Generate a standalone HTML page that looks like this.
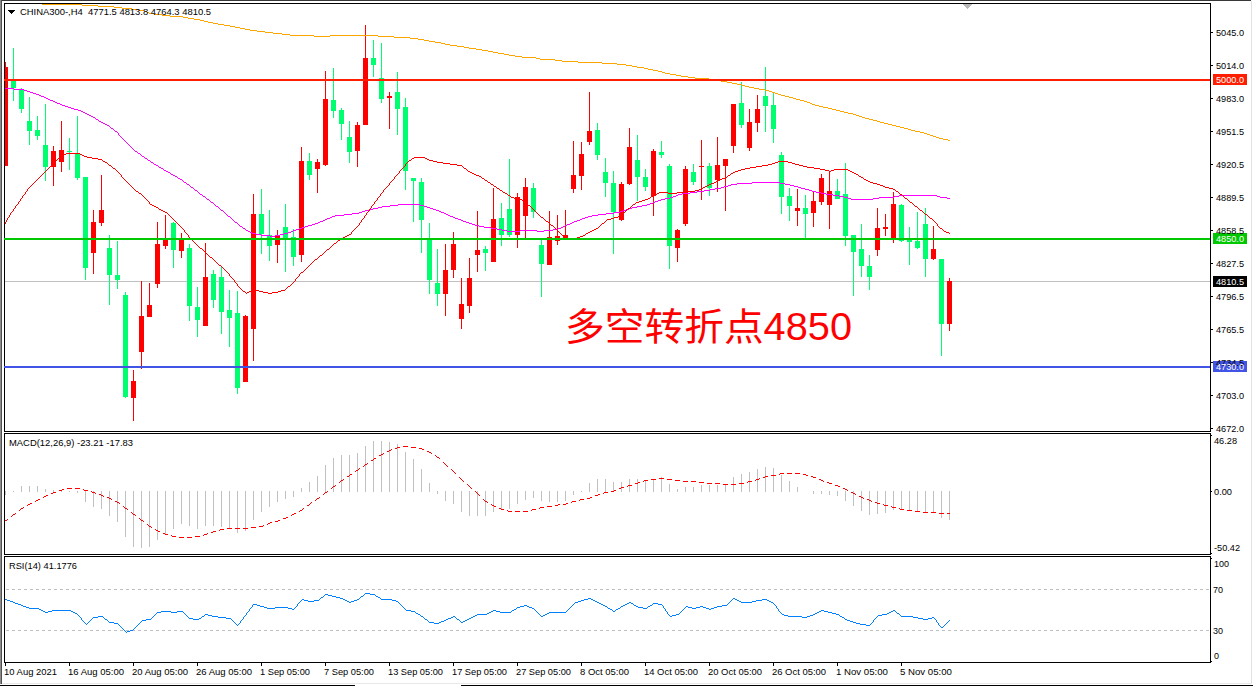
<!DOCTYPE html><html><head><meta charset="utf-8"><title>CHINA300 H4</title><style>html,body{margin:0;padding:0;background:#fff;overflow:hidden}svg{display:block}text{font-family:"Liberation Sans",sans-serif}</style></head><body>
<svg width="1253" height="686" viewBox="0 0 1253 686">
<rect x="0" y="0" width="1253" height="686" fill="#fff"/>
<g shape-rendering="crispEdges">
<rect x="0" y="0" width="1251" height="1" fill="#383838"/>
<rect x="0" y="0" width="1" height="684" fill="#8c8c8c"/>
<rect x="1" y="0" width="1" height="684" fill="#505050"/>
<rect x="1251" y="1" width="1" height="683" fill="#e2e2e2"/>
<rect x="2" y="683" width="1250" height="1" fill="#e8e8e8"/>
<rect x="0" y="685" width="355" height="1" fill="#000"/>
<rect x="461" y="685" width="792" height="1" fill="#000"/>
</g>
<defs><clipPath id="cm"><rect x="5" y="4" width="1205" height="427"/></clipPath></defs>
<g clip-path="url(#cm)">
<rect x="5" y="281" width="1205" height="1" fill="#c0c0c0" shape-rendering="crispEdges"/>
<g shape-rendering="crispEdges">
<rect x="5" y="62" width="1" height="104" fill="#FF0000"/>
<rect x="3" y="67" width="5" height="99" fill="#FF0000"/>
<rect x="13" y="48" width="1" height="53" fill="#00FF70"/>
<rect x="11" y="80" width="5" height="8" fill="#00FF70"/>
<rect x="21" y="88" width="1" height="25" fill="#00FF70"/>
<rect x="19" y="90" width="5" height="19" fill="#00FF70"/>
<rect x="29" y="97" width="1" height="48" fill="#00FF70"/>
<rect x="27" y="121" width="5" height="10" fill="#00FF70"/>
<rect x="37" y="116" width="1" height="24" fill="#00FF70"/>
<rect x="35" y="130" width="5" height="6" fill="#00FF70"/>
<rect x="45" y="104" width="1" height="77" fill="#00FF70"/>
<rect x="43" y="145" width="5" height="22" fill="#00FF70"/>
<rect x="53" y="146" width="1" height="40" fill="#FF0000"/>
<rect x="51" y="151" width="5" height="16" fill="#FF0000"/>
<rect x="61" y="121" width="1" height="51" fill="#FF0000"/>
<rect x="59" y="150" width="5" height="12" fill="#FF0000"/>
<rect x="69" y="138" width="1" height="32" fill="#00FF70"/>
<rect x="67" y="151" width="5" height="1" fill="#00FF70"/>
<rect x="77" y="116" width="1" height="64" fill="#00FF70"/>
<rect x="75" y="153" width="5" height="25" fill="#00FF70"/>
<rect x="85" y="177" width="1" height="103" fill="#00FF70"/>
<rect x="83" y="177" width="5" height="91" fill="#00FF70"/>
<rect x="93" y="210" width="1" height="64" fill="#FF0000"/>
<rect x="91" y="222" width="5" height="31" fill="#FF0000"/>
<rect x="101" y="175" width="1" height="51" fill="#FF0000"/>
<rect x="99" y="210" width="5" height="13" fill="#FF0000"/>
<rect x="109" y="235" width="1" height="70" fill="#00FF70"/>
<rect x="107" y="248" width="5" height="27" fill="#00FF70"/>
<rect x="117" y="241" width="1" height="48" fill="#00FF70"/>
<rect x="115" y="275" width="5" height="5" fill="#00FF70"/>
<rect x="125" y="292" width="1" height="106" fill="#00FF70"/>
<rect x="123" y="295" width="5" height="102" fill="#00FF70"/>
<rect x="133" y="370" width="1" height="51" fill="#FF0000"/>
<rect x="131" y="381" width="5" height="17" fill="#FF0000"/>
<rect x="141" y="281" width="1" height="88" fill="#FF0000"/>
<rect x="139" y="316" width="5" height="36" fill="#FF0000"/>
<rect x="149" y="283" width="1" height="34" fill="#FF0000"/>
<rect x="147" y="305" width="5" height="12" fill="#FF0000"/>
<rect x="157" y="222" width="1" height="66" fill="#FF0000"/>
<rect x="155" y="244" width="5" height="40" fill="#FF0000"/>
<rect x="165" y="215" width="1" height="34" fill="#FF0000"/>
<rect x="163" y="239" width="5" height="7" fill="#FF0000"/>
<rect x="173" y="222" width="1" height="46" fill="#00FF70"/>
<rect x="171" y="223" width="5" height="27" fill="#00FF70"/>
<rect x="181" y="233" width="1" height="25" fill="#FF0000"/>
<rect x="179" y="240" width="5" height="11" fill="#FF0000"/>
<rect x="189" y="244" width="1" height="77" fill="#00FF70"/>
<rect x="187" y="248" width="5" height="58" fill="#00FF70"/>
<rect x="197" y="287" width="1" height="50" fill="#00FF70"/>
<rect x="195" y="307" width="5" height="13" fill="#00FF70"/>
<rect x="205" y="243" width="1" height="83" fill="#FF0000"/>
<rect x="203" y="277" width="5" height="49" fill="#FF0000"/>
<rect x="213" y="270" width="1" height="38" fill="#00FF70"/>
<rect x="211" y="274" width="5" height="26" fill="#00FF70"/>
<rect x="221" y="266" width="1" height="68" fill="#00FF70"/>
<rect x="219" y="277" width="5" height="35" fill="#00FF70"/>
<rect x="229" y="290" width="1" height="57" fill="#00FF70"/>
<rect x="227" y="310" width="5" height="8" fill="#00FF70"/>
<rect x="237" y="291" width="1" height="103" fill="#00FF70"/>
<rect x="235" y="313" width="5" height="75" fill="#00FF70"/>
<rect x="245" y="315" width="1" height="67" fill="#FF0000"/>
<rect x="243" y="316" width="5" height="66" fill="#FF0000"/>
<rect x="253" y="194" width="1" height="167" fill="#FF0000"/>
<rect x="251" y="214" width="5" height="115" fill="#FF0000"/>
<rect x="261" y="189" width="1" height="65" fill="#00FF70"/>
<rect x="259" y="214" width="5" height="20" fill="#00FF70"/>
<rect x="269" y="210" width="1" height="51" fill="#00FF70"/>
<rect x="267" y="235" width="5" height="11" fill="#00FF70"/>
<rect x="277" y="230" width="1" height="33" fill="#FF0000"/>
<rect x="275" y="235" width="5" height="10" fill="#FF0000"/>
<rect x="285" y="204" width="1" height="68" fill="#00FF70"/>
<rect x="283" y="227" width="5" height="11" fill="#00FF70"/>
<rect x="293" y="229" width="1" height="37" fill="#00FF70"/>
<rect x="291" y="237" width="5" height="20" fill="#00FF70"/>
<rect x="301" y="147" width="1" height="115" fill="#FF0000"/>
<rect x="299" y="161" width="5" height="94" fill="#FF0000"/>
<rect x="309" y="153" width="1" height="27" fill="#00FF70"/>
<rect x="307" y="161" width="5" height="14" fill="#00FF70"/>
<rect x="317" y="159" width="1" height="34" fill="#FF0000"/>
<rect x="315" y="162" width="5" height="7" fill="#FF0000"/>
<rect x="325" y="71" width="1" height="95" fill="#FF0000"/>
<rect x="323" y="99" width="5" height="66" fill="#FF0000"/>
<rect x="333" y="68" width="1" height="50" fill="#00FF70"/>
<rect x="331" y="100" width="5" height="11" fill="#00FF70"/>
<rect x="341" y="108" width="1" height="32" fill="#00FF70"/>
<rect x="339" y="110" width="5" height="14" fill="#00FF70"/>
<rect x="349" y="121" width="1" height="42" fill="#00FF70"/>
<rect x="347" y="137" width="5" height="15" fill="#00FF70"/>
<rect x="357" y="122" width="1" height="45" fill="#FF0000"/>
<rect x="355" y="125" width="5" height="26" fill="#FF0000"/>
<rect x="365" y="25" width="1" height="100" fill="#FF0000"/>
<rect x="363" y="58" width="5" height="67" fill="#FF0000"/>
<rect x="373" y="40" width="1" height="37" fill="#00FF70"/>
<rect x="371" y="58" width="5" height="7" fill="#00FF70"/>
<rect x="381" y="43" width="1" height="60" fill="#00FF70"/>
<rect x="379" y="78" width="5" height="21" fill="#00FF70"/>
<rect x="389" y="92" width="1" height="37" fill="#FF0000"/>
<rect x="387" y="96" width="5" height="2" fill="#FF0000"/>
<rect x="397" y="72" width="1" height="63" fill="#00FF70"/>
<rect x="395" y="92" width="5" height="17" fill="#00FF70"/>
<rect x="405" y="98" width="1" height="92" fill="#00FF70"/>
<rect x="403" y="107" width="5" height="64" fill="#00FF70"/>
<rect x="413" y="178" width="1" height="44" fill="#00FF70"/>
<rect x="411" y="178" width="5" height="3" fill="#00FF70"/>
<rect x="421" y="178" width="1" height="75" fill="#00FF70"/>
<rect x="419" y="182" width="5" height="38" fill="#00FF70"/>
<rect x="429" y="223" width="1" height="71" fill="#00FF70"/>
<rect x="427" y="238" width="5" height="42" fill="#00FF70"/>
<rect x="437" y="249" width="1" height="57" fill="#00FF70"/>
<rect x="435" y="283" width="5" height="11" fill="#00FF70"/>
<rect x="445" y="244" width="1" height="72" fill="#FF0000"/>
<rect x="443" y="270" width="5" height="24" fill="#FF0000"/>
<rect x="453" y="232" width="1" height="46" fill="#FF0000"/>
<rect x="451" y="244" width="5" height="26" fill="#FF0000"/>
<rect x="461" y="278" width="1" height="51" fill="#FF0000"/>
<rect x="459" y="304" width="5" height="15" fill="#FF0000"/>
<rect x="469" y="258" width="1" height="55" fill="#FF0000"/>
<rect x="467" y="278" width="5" height="28" fill="#FF0000"/>
<rect x="477" y="211" width="1" height="61" fill="#FF0000"/>
<rect x="475" y="250" width="5" height="5" fill="#FF0000"/>
<rect x="485" y="246" width="1" height="25" fill="#00FF70"/>
<rect x="483" y="249" width="5" height="4" fill="#00FF70"/>
<rect x="493" y="188" width="1" height="74" fill="#FF0000"/>
<rect x="491" y="219" width="5" height="43" fill="#FF0000"/>
<rect x="501" y="203" width="1" height="43" fill="#00FF70"/>
<rect x="499" y="218" width="5" height="17" fill="#00FF70"/>
<rect x="509" y="159" width="1" height="78" fill="#00FF70"/>
<rect x="507" y="209" width="5" height="26" fill="#00FF70"/>
<rect x="517" y="193" width="1" height="55" fill="#FF0000"/>
<rect x="515" y="197" width="5" height="38" fill="#FF0000"/>
<rect x="525" y="178" width="1" height="60" fill="#FF0000"/>
<rect x="523" y="187" width="5" height="29" fill="#FF0000"/>
<rect x="533" y="183" width="1" height="35" fill="#00FF70"/>
<rect x="531" y="188" width="5" height="24" fill="#00FF70"/>
<rect x="541" y="240" width="1" height="57" fill="#00FF70"/>
<rect x="539" y="245" width="5" height="19" fill="#00FF70"/>
<rect x="549" y="211" width="1" height="54" fill="#FF0000"/>
<rect x="547" y="237" width="5" height="28" fill="#FF0000"/>
<rect x="557" y="215" width="1" height="30" fill="#FF0000"/>
<rect x="555" y="236" width="5" height="5" fill="#FF0000"/>
<rect x="565" y="210" width="1" height="29" fill="#FF0000"/>
<rect x="563" y="235" width="5" height="4" fill="#FF0000"/>
<rect x="573" y="141" width="1" height="52" fill="#FF0000"/>
<rect x="571" y="175" width="5" height="14" fill="#FF0000"/>
<rect x="581" y="142" width="1" height="48" fill="#FF0000"/>
<rect x="579" y="154" width="5" height="22" fill="#FF0000"/>
<rect x="589" y="92" width="1" height="53" fill="#FF0000"/>
<rect x="587" y="131" width="5" height="11" fill="#FF0000"/>
<rect x="597" y="123" width="1" height="37" fill="#00FF70"/>
<rect x="595" y="130" width="5" height="25" fill="#00FF70"/>
<rect x="605" y="158" width="1" height="39" fill="#00FF70"/>
<rect x="603" y="172" width="5" height="11" fill="#00FF70"/>
<rect x="613" y="171" width="1" height="83" fill="#00FF70"/>
<rect x="611" y="183" width="5" height="29" fill="#00FF70"/>
<rect x="621" y="182" width="1" height="39" fill="#FF0000"/>
<rect x="619" y="184" width="5" height="36" fill="#FF0000"/>
<rect x="629" y="128" width="1" height="57" fill="#FF0000"/>
<rect x="627" y="147" width="5" height="37" fill="#FF0000"/>
<rect x="637" y="135" width="1" height="66" fill="#00FF70"/>
<rect x="635" y="160" width="5" height="17" fill="#00FF70"/>
<rect x="645" y="169" width="1" height="22" fill="#00FF70"/>
<rect x="643" y="177" width="5" height="10" fill="#00FF70"/>
<rect x="653" y="149" width="1" height="67" fill="#FF0000"/>
<rect x="651" y="151" width="5" height="45" fill="#FF0000"/>
<rect x="661" y="141" width="1" height="17" fill="#00FF70"/>
<rect x="659" y="152" width="5" height="3" fill="#00FF70"/>
<rect x="669" y="164" width="1" height="105" fill="#00FF70"/>
<rect x="667" y="166" width="5" height="80" fill="#00FF70"/>
<rect x="677" y="229" width="1" height="33" fill="#FF0000"/>
<rect x="675" y="230" width="5" height="18" fill="#FF0000"/>
<rect x="685" y="166" width="1" height="60" fill="#FF0000"/>
<rect x="683" y="169" width="5" height="55" fill="#FF0000"/>
<rect x="693" y="164" width="1" height="21" fill="#00FF70"/>
<rect x="691" y="172" width="5" height="10" fill="#00FF70"/>
<rect x="701" y="140" width="1" height="60" fill="#FF0000"/>
<rect x="699" y="166" width="5" height="1" fill="#FF0000"/>
<rect x="709" y="163" width="1" height="33" fill="#00FF70"/>
<rect x="707" y="166" width="5" height="22" fill="#00FF70"/>
<rect x="717" y="137" width="1" height="55" fill="#FF0000"/>
<rect x="715" y="165" width="5" height="15" fill="#FF0000"/>
<rect x="725" y="159" width="1" height="52" fill="#FF0000"/>
<rect x="723" y="159" width="5" height="7" fill="#FF0000"/>
<rect x="733" y="104" width="1" height="49" fill="#FF0000"/>
<rect x="731" y="104" width="5" height="42" fill="#FF0000"/>
<rect x="741" y="82" width="1" height="46" fill="#00FF70"/>
<rect x="739" y="103" width="5" height="22" fill="#00FF70"/>
<rect x="749" y="109" width="1" height="42" fill="#FF0000"/>
<rect x="747" y="122" width="5" height="26" fill="#FF0000"/>
<rect x="757" y="95" width="1" height="37" fill="#FF0000"/>
<rect x="755" y="109" width="5" height="14" fill="#FF0000"/>
<rect x="765" y="67" width="1" height="65" fill="#00FF70"/>
<rect x="763" y="96" width="5" height="10" fill="#00FF70"/>
<rect x="773" y="92" width="1" height="51" fill="#00FF70"/>
<rect x="771" y="105" width="5" height="24" fill="#00FF70"/>
<rect x="781" y="152" width="1" height="62" fill="#00FF70"/>
<rect x="779" y="155" width="5" height="42" fill="#00FF70"/>
<rect x="789" y="188" width="1" height="33" fill="#00FF70"/>
<rect x="787" y="196" width="5" height="10" fill="#00FF70"/>
<rect x="797" y="189" width="1" height="37" fill="#FF0000"/>
<rect x="795" y="208" width="5" height="3" fill="#FF0000"/>
<rect x="805" y="195" width="1" height="43" fill="#00FF70"/>
<rect x="803" y="208" width="5" height="6" fill="#00FF70"/>
<rect x="813" y="192" width="1" height="35" fill="#FF0000"/>
<rect x="811" y="201" width="5" height="12" fill="#FF0000"/>
<rect x="821" y="174" width="1" height="31" fill="#FF0000"/>
<rect x="819" y="178" width="5" height="24" fill="#FF0000"/>
<rect x="829" y="171" width="1" height="58" fill="#FF0000"/>
<rect x="827" y="191" width="5" height="14" fill="#FF0000"/>
<rect x="837" y="179" width="1" height="20" fill="#00FF70"/>
<rect x="835" y="191" width="5" height="8" fill="#00FF70"/>
<rect x="845" y="163" width="1" height="83" fill="#00FF70"/>
<rect x="843" y="194" width="5" height="42" fill="#00FF70"/>
<rect x="853" y="235" width="1" height="61" fill="#00FF70"/>
<rect x="851" y="235" width="5" height="17" fill="#00FF70"/>
<rect x="861" y="224" width="1" height="53" fill="#00FF70"/>
<rect x="859" y="249" width="5" height="17" fill="#00FF70"/>
<rect x="869" y="255" width="1" height="35" fill="#00FF70"/>
<rect x="867" y="266" width="5" height="11" fill="#00FF70"/>
<rect x="877" y="208" width="1" height="48" fill="#FF0000"/>
<rect x="875" y="228" width="5" height="22" fill="#FF0000"/>
<rect x="885" y="214" width="1" height="22" fill="#FF0000"/>
<rect x="883" y="227" width="5" height="2" fill="#FF0000"/>
<rect x="893" y="192" width="1" height="51" fill="#FF0000"/>
<rect x="891" y="204" width="5" height="34" fill="#FF0000"/>
<rect x="901" y="204" width="1" height="38" fill="#00FF70"/>
<rect x="899" y="205" width="5" height="36" fill="#00FF70"/>
<rect x="909" y="227" width="1" height="38" fill="#00FF70"/>
<rect x="907" y="239" width="5" height="3" fill="#00FF70"/>
<rect x="917" y="212" width="1" height="37" fill="#00FF70"/>
<rect x="915" y="241" width="5" height="7" fill="#00FF70"/>
<rect x="925" y="208" width="1" height="69" fill="#00FF70"/>
<rect x="923" y="224" width="5" height="35" fill="#00FF70"/>
<rect x="933" y="226" width="1" height="34" fill="#FF0000"/>
<rect x="931" y="249" width="5" height="10" fill="#FF0000"/>
<rect x="941" y="259" width="1" height="97" fill="#00FF70"/>
<rect x="939" y="259" width="5" height="65" fill="#00FF70"/>
<rect x="949" y="278" width="1" height="53" fill="#FF0000"/>
<rect x="947" y="281" width="5" height="43" fill="#FF0000"/>
</g>
<path d="M42 4h40v1h-40zM82 5h16v1h-16zM98 6h16v1h-16zM114 7h8v1h-8zM122 8h10v1h-10zM132 9h6v1h-6zM138 10h6v1h-6zM144 11h3v1h-3zM147 12h2v1h-2zM149 13h5v1h-5zM154 14h8v1h-8zM162 15h8v1h-8zM170 16h13v1h-13zM183 17h5v1h-5zM188 18h6v1h-6zM194 19h6v1h-6zM200 20h4v1h-4zM204 21h4v1h-4zM208 22h5v1h-5zM213 23h5v1h-5zM218 24h6v1h-6zM224 25h6v1h-6zM230 26h5v1h-5zM235 27h5v1h-5zM240 28h5v1h-5zM245 29h5v1h-5zM250 30h7v1h-7zM257 31h8v1h-8zM265 32h8v1h-8zM273 33h9v1h-9zM282 34h8v1h-8zM290 35h24v1h-24zM314 36h16v1h-16zM330 35h48v1h-48zM378 36h16v1h-16zM394 37h16v1h-16zM410 38h8v1h-8zM418 39h6v1h-6zM424 40h5v1h-5zM429 41h6v1h-6zM435 42h6v1h-6zM441 43h4v1h-4zM445 44h5v1h-5zM450 45h7v1h-7zM457 46h7v1h-7zM464 47h5v1h-5zM469 48h7v1h-7zM476 49h6v1h-6zM482 50h6v1h-6zM488 51h5v1h-5zM493 52h5v1h-5zM498 53h6v1h-6zM504 54h5v1h-5zM509 55h6v1h-6zM515 56h7v1h-7zM522 57h14v1h-14zM536 58h4v1h-4zM540 59h15v1h-15zM555 60h7v1h-7zM562 61h16v1h-16zM578 62h24v1h-24zM602 63h15v1h-15zM617 64h9v1h-9zM626 65h6v1h-6zM632 66h5v1h-5zM637 67h7v1h-7zM644 68h4v1h-4zM648 69h5v1h-5zM653 70h5v1h-5zM658 71h4v1h-4zM662 72h3v1h-3zM665 73h5v1h-5zM670 74h6v1h-6zM676 75h5v1h-5zM681 76h7v1h-7zM688 77h7v1h-7zM695 78h14v1h-14zM709 79h6v1h-6zM715 80h6v1h-6zM721 81h6v1h-6zM727 82h5v1h-5zM732 83h5v1h-5zM737 84h5v1h-5zM742 85h3v1h-3zM745 86h4v1h-4zM749 87h5v1h-5zM754 88h5v1h-5zM759 89h6v1h-6zM765 90h4v1h-4zM769 91h3v1h-3zM772 92h3v1h-3zM775 93h3v1h-3zM778 94h3v1h-3zM781 95h4v1h-4zM785 96h4v1h-4zM789 97h4v1h-4zM793 98h3v1h-3zM796 99h4v1h-4zM800 100h4v1h-4zM804 101h3v1h-3zM807 102h3v1h-3zM810 103h2v1h-2zM812 104h3v1h-3zM815 105h4v1h-4zM819 106h4v1h-4zM823 107h5v1h-5zM828 108h4v1h-4zM832 109h4v1h-4zM836 110h4v1h-4zM840 111h4v1h-4zM844 112h4v1h-4zM848 113h5v1h-5zM853 114h3v1h-3zM856 115h3v1h-3zM859 116h3v1h-3zM862 117h3v1h-3zM865 118h4v1h-4zM869 119h4v1h-4zM873 120h4v1h-4zM877 121h3v1h-3zM880 122h4v1h-4zM884 123h4v1h-4zM888 124h4v1h-4zM892 125h4v1h-4zM896 126h4v1h-4zM900 127h4v1h-4zM904 128h4v1h-4zM908 129h3v1h-3zM911 130h4v1h-4zM915 131h5v1h-5zM920 132h4v1h-4zM924 133h3v1h-3zM927 134h3v1h-3zM930 135h3v1h-3zM933 136h3v1h-3zM936 137h3v1h-3zM939 138h4v1h-4zM943 139h5v1h-5zM948 140h2v1h-2z" fill="#FFA500" shape-rendering="crispEdges"/>
<path d="M5 88h9v1h-9zM14 89h10v1h-10zM24 90h3v1h-3zM27 91h3v1h-3zM30 92h3v1h-3zM33 93h3v1h-3zM36 94h3v1h-3zM39 95h2v1h-2zM41 96h3v1h-3zM44 97h2v1h-2zM46 98h2v1h-2zM48 99h2v1h-2zM50 100h3v1h-3zM53 101h2v1h-2zM55 102h2v1h-2zM57 103h3v1h-3zM60 104h2v1h-2zM62 105h3v1h-3zM65 106h3v1h-3zM68 107h3v1h-3zM71 108h3v1h-3zM74 109h4v1h-4zM78 110h3v1h-3zM81 111h2v1h-2zM83 112h2v1h-2zM85 113h2v1h-2zM87 114h2v1h-2zM89 115h2v1h-2zM91 116h2v1h-2zM93 117h2v1h-2zM95 118h1v1h-1zM96 119h2v1h-2zM98 120h1v1h-1zM99 121h2v1h-2zM101 122h2v1h-2zM103 123h2v1h-2zM105 124h2v1h-2zM107 125h2v1h-2zM109 126h1v1h-1zM110 127h1v1h-1zM111 128h2v1h-2zM113 129h1v1h-1zM114 130h1v1h-1zM115 131h2v1h-2zM117 132h1v1h-1zM118 133h1v2h-1zM119 135h1v1h-1zM120 136h1v1h-1zM121 137h1v1h-1zM122 138h1v1h-1zM123 139h1v1h-1zM124 140h1v1h-1zM125 141h1v1h-1zM126 142h1v1h-1zM127 143h1v1h-1zM128 144h1v1h-1zM129 145h1v1h-1zM130 146h1v1h-1zM131 147h1v1h-1zM132 148h1v1h-1zM133 149h1v1h-1zM134 150h1v1h-1zM135 151h2v1h-2zM137 152h1v1h-1zM138 153h2v1h-2zM140 154h1v1h-1zM141 155h1v1h-1zM142 156h2v1h-2zM144 157h1v1h-1zM145 158h2v1h-2zM147 159h1v1h-1zM148 160h2v1h-2zM150 161h1v1h-1zM151 162h2v1h-2zM153 163h1v1h-1zM154 164h2v1h-2zM156 165h2v1h-2zM158 166h1v1h-1zM159 167h2v1h-2zM161 168h2v1h-2zM163 169h1v1h-1zM164 170h2v1h-2zM166 171h2v1h-2zM168 172h2v1h-2zM170 173h1v1h-1zM171 174h2v1h-2zM173 175h2v1h-2zM175 176h2v1h-2zM177 177h1v1h-1zM178 178h2v1h-2zM180 179h2v1h-2zM182 180h1v1h-1zM183 181h1v1h-1zM184 182h2v1h-2zM186 183h1v1h-1zM187 184h2v1h-2zM189 185h1v1h-1zM190 186h1v1h-1zM191 187h2v1h-2zM193 188h1v1h-1zM194 189h1v1h-1zM195 190h2v1h-2zM197 191h1v1h-1zM198 192h1v1h-1zM199 193h1v1h-1zM200 194h2v1h-2zM202 195h1v1h-1zM203 196h2v1h-2zM205 197h1v1h-1zM206 198h1v1h-1zM207 199h2v1h-2zM209 200h1v1h-1zM210 201h1v1h-1zM211 202h2v1h-2zM213 203h1v1h-1zM214 204h1v1h-1zM215 205h1v1h-1zM216 206h2v1h-2zM218 207h1v1h-1zM219 208h1v1h-1zM220 209h1v1h-1zM221 210h2v1h-2zM223 211h1v1h-1zM224 212h1v1h-1zM225 213h1v1h-1zM226 214h1v1h-1zM227 215h1v1h-1zM228 216h2v1h-2zM230 217h1v1h-1zM231 218h1v1h-1zM232 219h1v1h-1zM233 220h1v1h-1zM234 221h1v1h-1zM235 222h2v1h-2zM237 223h1v1h-1zM238 224h1v1h-1zM239 225h1v1h-1zM240 226h2v1h-2zM242 227h1v1h-1zM243 228h2v1h-2zM245 229h1v1h-1zM246 230h2v1h-2zM248 231h2v1h-2zM250 232h2v1h-2zM252 233h4v1h-4zM256 234h5v1h-5zM261 235h9v1h-9zM270 236h5v1h-5zM275 235h5v1h-5zM280 234h4v1h-4zM284 233h4v1h-4zM288 232h3v1h-3zM291 231h2v1h-2zM293 230h3v1h-3zM296 229h3v1h-3zM299 228h3v1h-3zM302 227h3v1h-3zM305 226h3v1h-3zM308 225h4v1h-4zM312 224h3v1h-3zM315 223h3v1h-3zM318 222h2v1h-2zM320 221h3v1h-3zM323 220h2v1h-2zM325 219h2v1h-2zM327 218h3v1h-3zM330 217h2v1h-2zM332 216h3v1h-3zM335 215h9v1h-9zM344 214h8v1h-8zM352 213h7v1h-7zM359 212h3v1h-3zM362 211h3v1h-3zM365 210h4v1h-4zM369 209h4v1h-4zM373 208h5v1h-5zM378 207h4v1h-4zM382 206h8v1h-8zM390 205h8v1h-8zM398 204h22v1h-22zM420 205h4v1h-4zM424 206h3v1h-3zM427 207h3v1h-3zM430 208h3v1h-3zM433 209h3v1h-3zM436 210h3v1h-3zM439 211h2v1h-2zM441 212h3v1h-3zM444 213h2v1h-2zM446 214h2v1h-2zM448 215h2v1h-2zM450 216h3v1h-3zM453 217h2v1h-2zM455 218h3v1h-3zM458 219h3v1h-3zM461 220h2v1h-2zM463 221h3v1h-3zM466 222h3v1h-3zM469 223h3v1h-3zM472 224h3v1h-3zM475 225h4v1h-4zM479 226h5v1h-5zM484 227h7v1h-7zM491 228h6v1h-6zM497 229h5v1h-5zM502 230h5v1h-5zM507 231h13v1h-13zM520 230h17v1h-17zM537 231h7v1h-7zM544 230h9v1h-9zM553 229h5v1h-5zM558 228h3v1h-3zM561 227h2v1h-2zM563 226h2v1h-2zM565 225h2v1h-2zM567 224h3v1h-3zM570 223h2v1h-2zM572 222h2v1h-2zM574 221h3v1h-3zM577 220h3v1h-3zM580 219h2v1h-2zM582 218h3v1h-3zM585 217h3v1h-3zM588 216h4v1h-4zM592 215h6v1h-6zM598 214h8v1h-8zM606 213h8v1h-8zM614 212h6v1h-6zM620 211h3v1h-3zM623 210h3v1h-3zM626 209h3v1h-3zM629 208h3v1h-3zM632 207h5v1h-5zM637 206h5v1h-5zM642 205h5v1h-5zM647 204h3v1h-3zM650 203h3v1h-3zM653 202h2v1h-2zM655 201h3v1h-3zM658 200h3v1h-3zM661 199h4v1h-4zM665 198h5v1h-5zM670 197h3v1h-3zM673 196h3v1h-3zM676 195h2v1h-2zM678 194h4v1h-4zM682 193h8v1h-8zM690 192h7v1h-7zM697 191h7v1h-7zM704 190h6v1h-6zM710 189h5v1h-5zM715 188h6v1h-6zM721 187h3v1h-3zM724 186h4v1h-4zM728 185h3v1h-3zM731 184h6v1h-6zM737 183h15v1h-15zM752 182h28v1h-28zM780 183h5v1h-5zM785 184h5v1h-5zM790 185h4v1h-4zM794 186h4v1h-4zM798 187h3v1h-3zM801 188h4v1h-4zM805 189h4v1h-4zM809 190h3v1h-3zM812 191h4v1h-4zM816 192h5v1h-5zM821 193h5v1h-5zM826 194h7v1h-7zM833 195h6v1h-6zM839 196h5v1h-5zM844 197h4v1h-4zM848 198h3v1h-3zM851 199h22v1h-22zM873 198h6v1h-6zM879 197h15v1h-15zM894 196h5v1h-5zM899 195h38v1h-38zM937 196h3v1h-3zM940 197h7v1h-7zM947 198h3v1h-3z" fill="#FF00FF" shape-rendering="crispEdges"/>
<path d="M5 222h1v2h-1zM6 220h1v2h-1zM7 218h1v2h-1zM8 217h1v1h-1zM9 215h1v2h-1zM10 213h1v2h-1zM11 212h1v1h-1zM12 211h1v1h-1zM13 209h1v2h-1zM14 208h1v1h-1zM15 206h1v2h-1zM16 205h1v1h-1zM17 204h1v1h-1zM18 202h1v2h-1zM19 201h1v1h-1zM20 199h1v2h-1zM21 198h1v1h-1zM22 196h1v2h-1zM23 195h1v1h-1zM24 194h1v1h-1zM25 192h1v2h-1zM26 191h1v1h-1zM27 189h1v2h-1zM28 188h1v1h-1zM29 187h1v1h-1zM30 186h1v1h-1zM31 185h1v1h-1zM32 184h1v1h-1zM33 183h1v1h-1zM34 182h1v1h-1zM35 181h1v1h-1zM36 180h1v1h-1zM37 179h1v1h-1zM38 178h1v1h-1zM39 177h1v1h-1zM40 176h1v1h-1zM41 175h1v1h-1zM42 174h1v1h-1zM43 173h1v1h-1zM44 172h1v1h-1zM45 171h1v1h-1zM46 170h1v1h-1zM47 169h1v1h-1zM48 168h1v1h-1zM49 167h1v1h-1zM50 166h1v1h-1zM51 165h1v1h-1zM52 164h1v1h-1zM53 163h1v1h-1zM54 162h1v1h-1zM55 161h1v1h-1zM56 160h1v1h-1zM57 159h1v1h-1zM58 158h2v1h-2zM60 157h1v1h-1zM61 156h1v1h-1zM62 155h1v1h-1zM63 154h3v1h-3zM66 153h14v1h-14zM80 154h2v1h-2zM82 155h2v1h-2zM84 156h3v1h-3zM87 157h5v1h-5zM92 158h6v1h-6zM98 159h4v1h-4zM102 160h1v1h-1zM103 161h2v1h-2zM105 162h2v1h-2zM107 163h1v1h-1zM108 164h1v1h-1zM109 165h2v1h-2zM111 166h1v1h-1zM112 167h1v1h-1zM113 168h2v1h-2zM115 169h1v1h-1zM116 170h1v1h-1zM117 171h1v1h-1zM118 172h1v1h-1zM119 173h1v1h-1zM120 174h1v1h-1zM121 175h1v2h-1zM122 177h1v1h-1zM123 178h1v1h-1zM124 179h1v1h-1zM125 180h1v1h-1zM126 181h1v1h-1zM127 182h1v1h-1zM128 183h1v1h-1zM129 184h1v1h-1zM130 185h1v1h-1zM131 186h1v1h-1zM132 187h1v1h-1zM133 188h1v1h-1zM134 189h1v1h-1zM135 190h1v1h-1zM136 191h2v1h-2zM138 192h1v1h-1zM139 193h2v1h-2zM141 194h1v1h-1zM142 195h1v1h-1zM143 196h1v1h-1zM144 197h1v1h-1zM145 198h1v1h-1zM146 199h1v1h-1zM147 200h1v1h-1zM148 201h1v1h-1zM149 202h1v2h-1zM150 204h2v1h-2zM152 205h2v1h-2zM154 206h2v1h-2zM156 207h2v1h-2zM158 208h1v1h-1zM159 209h2v1h-2zM161 210h2v1h-2zM163 211h2v1h-2zM165 212h2v1h-2zM167 213h1v1h-1zM168 214h1v1h-1zM169 215h1v1h-1zM170 216h1v1h-1zM171 217h1v1h-1zM172 218h1v1h-1zM173 219h1v1h-1zM174 220h1v1h-1zM175 221h1v1h-1zM176 222h1v1h-1zM177 223h1v1h-1zM178 224h1v1h-1zM179 225h1v1h-1zM180 226h1v1h-1zM181 227h1v1h-1zM182 228h1v1h-1zM183 229h1v1h-1zM184 230h1v2h-1zM185 232h1v1h-1zM186 233h1v1h-1zM187 234h1v1h-1zM188 235h1v2h-1zM189 237h1v1h-1zM190 238h1v1h-1zM191 239h1v1h-1zM192 240h1v1h-1zM193 241h1v1h-1zM194 242h1v1h-1zM195 243h1v1h-1zM196 244h1v1h-1zM197 245h1v1h-1zM198 246h1v1h-1zM199 247h1v1h-1zM200 248h2v1h-2zM202 249h1v1h-1zM203 250h1v1h-1zM204 251h1v1h-1zM205 252h1v1h-1zM206 253h1v1h-1zM207 254h1v1h-1zM208 255h1v1h-1zM209 256h1v1h-1zM210 257h2v1h-2zM212 258h1v1h-1zM213 259h1v1h-1zM214 260h1v1h-1zM215 261h1v1h-1zM216 262h1v1h-1zM217 263h1v1h-1zM218 264h1v1h-1zM219 265h2v1h-2zM221 266h1v1h-1zM222 267h1v1h-1zM223 268h1v1h-1zM224 269h1v1h-1zM225 270h1v1h-1zM226 271h1v1h-1zM227 272h1v1h-1zM228 273h1v1h-1zM229 274h1v2h-1zM230 276h1v1h-1zM231 277h1v1h-1zM232 278h1v1h-1zM233 279h1v1h-1zM234 280h1v2h-1zM235 282h1v1h-1zM236 283h1v1h-1zM237 284h1v2h-1zM238 286h1v1h-1zM239 287h1v1h-1zM240 288h1v1h-1zM241 289h1v1h-1zM242 290h1v1h-1zM243 291h2v1h-2zM245 292h1v1h-1zM246 293h1v1h-1zM247 292h2v1h-2zM249 291h5v1h-5zM254 290h5v1h-5zM259 291h4v1h-4zM263 292h5v1h-5zM268 293h4v1h-4zM272 292h6v1h-6zM278 291h3v1h-3zM281 290h4v1h-4zM285 289h1v1h-1zM286 288h1v1h-1zM287 287h1v1h-1zM288 286h2v1h-2zM290 285h1v1h-1zM291 284h1v1h-1zM292 283h1v1h-1zM293 282h1v1h-1zM294 281h1v1h-1zM295 279h1v2h-1zM296 278h1v1h-1zM297 277h1v1h-1zM298 276h1v1h-1zM299 274h1v2h-1zM300 273h1v1h-1zM301 272h2v1h-2zM303 271h1v1h-1zM304 270h1v1h-1zM305 269h1v1h-1zM306 268h1v1h-1zM307 267h1v1h-1zM308 266h1v1h-1zM309 265h1v1h-1zM310 264h1v1h-1zM311 263h1v1h-1zM312 262h1v1h-1zM313 261h1v1h-1zM314 260h1v1h-1zM315 259h2v1h-2zM317 258h1v1h-1zM318 257h1v1h-1zM319 256h1v1h-1zM320 255h2v1h-2zM322 254h1v1h-1zM323 253h1v1h-1zM324 252h1v1h-1zM325 251h1v1h-1zM326 250h1v1h-1zM327 249h2v1h-2zM329 248h1v1h-1zM330 247h1v1h-1zM331 246h1v1h-1zM332 245h1v1h-1zM333 244h1v1h-1zM334 243h2v1h-2zM336 242h1v1h-1zM337 241h1v1h-1zM338 240h2v1h-2zM340 239h1v1h-1zM341 238h2v1h-2zM343 237h2v1h-2zM345 236h2v1h-2zM347 235h2v1h-2zM349 234h2v1h-2zM351 232h1v2h-1zM352 231h1v1h-1zM353 230h1v1h-1zM354 229h1v1h-1zM355 228h1v1h-1zM356 227h1v1h-1zM357 226h1v1h-1zM358 225h1v1h-1zM359 223h1v2h-1zM360 222h1v1h-1zM361 220h1v2h-1zM362 219h1v1h-1zM363 218h1v1h-1zM364 216h1v2h-1zM365 215h1v1h-1zM366 213h1v2h-1zM367 212h1v1h-1zM368 211h1v1h-1zM369 209h1v2h-1zM370 208h1v1h-1zM371 206h1v2h-1zM372 205h1v1h-1zM373 204h1v1h-1zM374 202h1v2h-1zM375 201h1v1h-1zM376 200h1v1h-1zM377 198h1v2h-1zM378 197h1v1h-1zM379 196h1v1h-1zM380 194h1v2h-1zM381 193h1v1h-1zM382 192h1v1h-1zM383 190h1v2h-1zM384 189h1v1h-1zM385 188h1v1h-1zM386 187h1v1h-1zM387 186h1v1h-1zM388 185h1v1h-1zM389 183h1v2h-1zM390 182h1v1h-1zM391 181h1v1h-1zM392 180h1v1h-1zM393 179h1v1h-1zM394 177h1v2h-1zM395 176h1v1h-1zM396 175h1v1h-1zM397 174h1v1h-1zM398 173h1v1h-1zM399 171h1v2h-1zM400 170h1v1h-1zM401 169h1v1h-1zM402 168h1v1h-1zM403 167h1v1h-1zM404 166h1v1h-1zM405 164h1v2h-1zM406 163h1v1h-1zM407 162h1v1h-1zM408 161h1v1h-1zM409 160h2v1h-2zM411 159h1v1h-1zM412 158h2v1h-2zM414 157h11v1h-11zM425 158h2v1h-2zM427 159h2v1h-2zM429 160h4v1h-4zM433 161h4v1h-4zM437 162h6v1h-6zM443 163h7v1h-7zM450 164h7v1h-7zM457 165h5v1h-5zM462 166h1v1h-1zM463 167h1v1h-1zM464 168h2v1h-2zM466 169h1v1h-1zM467 170h1v1h-1zM468 171h2v1h-2zM470 172h2v1h-2zM472 173h2v1h-2zM474 174h2v1h-2zM476 175h3v1h-3zM479 176h2v1h-2zM481 177h1v1h-1zM482 178h2v1h-2zM484 179h1v1h-1zM485 180h2v1h-2zM487 181h1v1h-1zM488 182h2v1h-2zM490 183h1v1h-1zM491 184h2v1h-2zM493 185h1v1h-1zM494 186h2v1h-2zM496 187h1v1h-1zM497 188h2v1h-2zM499 189h1v1h-1zM500 190h2v1h-2zM502 191h1v1h-1zM503 192h2v1h-2zM505 193h2v1h-2zM507 194h1v1h-1zM508 195h2v1h-2zM510 196h1v1h-1zM511 197h3v1h-3zM514 198h4v1h-4zM518 199h4v1h-4zM522 200h1v1h-1zM523 201h2v1h-2zM525 202h1v1h-1zM526 203h1v1h-1zM527 204h1v1h-1zM528 205h2v1h-2zM530 206h1v1h-1zM531 207h1v1h-1zM532 208h1v1h-1zM533 209h1v1h-1zM534 210h1v1h-1zM535 211h1v1h-1zM536 212h1v1h-1zM537 213h1v1h-1zM538 214h1v1h-1zM539 215h1v1h-1zM540 216h1v1h-1zM541 217h2v1h-2zM543 218h1v1h-1zM544 219h1v1h-1zM545 220h1v1h-1zM546 221h2v1h-2zM548 222h1v1h-1zM549 223h1v1h-1zM550 224h1v1h-1zM551 225h2v1h-2zM553 226h1v1h-1zM554 227h1v1h-1zM555 228h1v1h-1zM556 229h1v1h-1zM557 230h1v1h-1zM558 231h1v1h-1zM559 232h1v1h-1zM560 233h1v1h-1zM561 234h1v1h-1zM562 235h1v1h-1zM563 236h1v1h-1zM564 237h1v1h-1zM565 238h1v1h-1zM566 239h1v1h-1zM567 238h1v1h-1zM568 239h8v1h-8zM576 238h1v1h-1zM577 237h3v1h-3zM580 236h3v1h-3zM583 235h2v1h-2zM585 234h1v1h-1zM586 233h2v1h-2zM588 232h2v1h-2zM590 231h2v1h-2zM592 230h2v1h-2zM594 229h2v1h-2zM596 228h2v1h-2zM598 227h1v1h-1zM599 226h1v1h-1zM600 225h1v1h-1zM601 224h1v1h-1zM602 223h2v1h-2zM604 222h1v1h-1zM605 221h1v1h-1zM606 220h1v1h-1zM607 219h4v1h-4zM611 218h3v1h-3zM614 217h4v1h-4zM618 216h2v1h-2zM620 215h1v1h-1zM621 214h1v1h-1zM622 213h1v1h-1zM623 212h2v1h-2zM625 211h1v1h-1zM626 210h1v1h-1zM627 209h1v1h-1zM628 208h2v1h-2zM630 207h1v1h-1zM631 206h1v1h-1zM632 205h1v1h-1zM633 204h2v1h-2zM635 203h1v1h-1zM636 202h3v1h-3zM639 201h3v1h-3zM642 200h3v1h-3zM645 199h3v1h-3zM648 198h2v1h-2zM650 197h1v1h-1zM651 196h2v1h-2zM653 195h2v1h-2zM655 194h2v1h-2zM657 193h2v1h-2zM659 192h9v1h-9zM668 193h9v1h-9zM677 192h8v1h-8zM685 191h10v1h-10zM695 190h4v1h-4zM699 189h2v1h-2zM701 188h2v1h-2zM703 187h2v1h-2zM705 186h2v1h-2zM707 185h2v1h-2zM709 184h2v1h-2zM711 183h3v1h-3zM714 182h2v1h-2zM716 181h2v1h-2zM718 180h2v1h-2zM720 179h2v1h-2zM722 178h3v1h-3zM725 177h2v1h-2zM727 176h1v1h-1zM728 175h2v1h-2zM730 174h1v1h-1zM731 173h2v1h-2zM733 172h2v1h-2zM735 171h3v1h-3zM738 170h3v1h-3zM741 169h4v1h-4zM745 168h5v1h-5zM750 167h6v1h-6zM756 166h6v1h-6zM762 165h6v1h-6zM768 164h4v1h-4zM772 163h3v1h-3zM775 162h3v1h-3zM778 161h10v1h-10zM788 162h4v1h-4zM792 163h3v1h-3zM795 164h4v1h-4zM799 165h4v1h-4zM803 166h4v1h-4zM807 167h7v1h-7zM814 168h6v1h-6zM820 169h5v1h-5zM825 170h4v1h-4zM829 171h2v1h-2zM831 170h3v1h-3zM834 169h14v1h-14zM848 170h2v1h-2zM850 171h2v1h-2zM852 172h2v1h-2zM854 173h2v1h-2zM856 174h2v1h-2zM858 175h1v1h-1zM859 176h2v1h-2zM861 177h2v1h-2zM863 178h1v1h-1zM864 179h2v1h-2zM866 180h2v1h-2zM868 181h2v1h-2zM870 182h3v1h-3zM873 183h4v1h-4zM877 184h3v1h-3zM880 185h3v1h-3zM883 186h2v1h-2zM885 187h4v1h-4zM889 188h4v1h-4zM893 189h2v1h-2zM895 190h1v1h-1zM896 191h2v1h-2zM898 192h1v1h-1zM899 193h1v1h-1zM900 194h2v1h-2zM902 195h1v1h-1zM903 196h1v1h-1zM904 197h1v1h-1zM905 198h2v1h-2zM907 199h1v1h-1zM908 200h1v1h-1zM909 201h1v1h-1zM910 202h2v1h-2zM912 203h1v1h-1zM913 204h1v1h-1zM914 205h1v1h-1zM915 206h2v1h-2zM917 207h1v1h-1zM918 208h1v1h-1zM919 209h1v1h-1zM920 210h2v1h-2zM922 211h1v1h-1zM923 212h1v1h-1zM924 213h1v1h-1zM925 214h2v1h-2zM927 215h1v1h-1zM928 216h1v1h-1zM929 217h1v1h-1zM930 218h2v1h-2zM932 219h1v1h-1zM933 220h1v1h-1zM934 221h1v1h-1zM935 222h1v1h-1zM936 223h1v1h-1zM937 224h1v2h-1zM938 226h1v1h-1zM939 227h1v1h-1zM940 228h2v1h-2zM942 229h1v1h-1zM943 230h1v1h-1zM944 231h2v1h-2zM946 232h3v1h-3zM949 233h1v1h-1z" fill="#FF0000" shape-rendering="crispEdges"/>
<path d="M963 4h9v1h-9zM964 5h7v1h-7zM965 6h5v1h-5zM966 7h3v1h-3zM967 8h1v1h-1z" fill="#b8b8b8" shape-rendering="crispEdges"/>
</g>
<g shape-rendering="crispEdges">
<rect x="5" y="491" width="1" height="4" fill="#c0c0c0"/>
<rect x="13" y="491" width="1" height="1" fill="#c0c0c0"/>
<rect x="21" y="486" width="1" height="6" fill="#c0c0c0"/>
<rect x="29" y="486" width="1" height="6" fill="#c0c0c0"/>
<rect x="37" y="486" width="1" height="6" fill="#c0c0c0"/>
<rect x="45" y="489" width="1" height="3" fill="#c0c0c0"/>
<rect x="53" y="490" width="1" height="2" fill="#c0c0c0"/>
<rect x="61" y="490" width="1" height="2" fill="#c0c0c0"/>
<rect x="69" y="491" width="1" height="1" fill="#c0c0c0"/>
<rect x="77" y="491" width="1" height="2" fill="#c0c0c0"/>
<rect x="85" y="491" width="1" height="11" fill="#c0c0c0"/>
<rect x="93" y="491" width="1" height="16" fill="#c0c0c0"/>
<rect x="101" y="491" width="1" height="18" fill="#c0c0c0"/>
<rect x="109" y="491" width="1" height="25" fill="#c0c0c0"/>
<rect x="117" y="491" width="1" height="31" fill="#c0c0c0"/>
<rect x="125" y="491" width="1" height="46" fill="#c0c0c0"/>
<rect x="133" y="491" width="1" height="56" fill="#c0c0c0"/>
<rect x="141" y="491" width="1" height="57" fill="#c0c0c0"/>
<rect x="149" y="491" width="1" height="56" fill="#c0c0c0"/>
<rect x="157" y="491" width="1" height="49" fill="#c0c0c0"/>
<rect x="165" y="491" width="1" height="43" fill="#c0c0c0"/>
<rect x="173" y="491" width="1" height="38" fill="#c0c0c0"/>
<rect x="181" y="491" width="1" height="33" fill="#c0c0c0"/>
<rect x="189" y="491" width="1" height="35" fill="#c0c0c0"/>
<rect x="197" y="491" width="1" height="38" fill="#c0c0c0"/>
<rect x="205" y="491" width="1" height="35" fill="#c0c0c0"/>
<rect x="213" y="491" width="1" height="35" fill="#c0c0c0"/>
<rect x="221" y="491" width="1" height="36" fill="#c0c0c0"/>
<rect x="229" y="491" width="1" height="37" fill="#c0c0c0"/>
<rect x="237" y="491" width="1" height="42" fill="#c0c0c0"/>
<rect x="245" y="491" width="1" height="40" fill="#c0c0c0"/>
<rect x="253" y="491" width="1" height="29" fill="#c0c0c0"/>
<rect x="261" y="491" width="1" height="21" fill="#c0c0c0"/>
<rect x="269" y="491" width="1" height="16" fill="#c0c0c0"/>
<rect x="277" y="491" width="1" height="11" fill="#c0c0c0"/>
<rect x="285" y="491" width="1" height="8" fill="#c0c0c0"/>
<rect x="293" y="491" width="1" height="6" fill="#c0c0c0"/>
<rect x="301" y="488" width="1" height="4" fill="#c0c0c0"/>
<rect x="309" y="482" width="1" height="10" fill="#c0c0c0"/>
<rect x="317" y="476" width="1" height="16" fill="#c0c0c0"/>
<rect x="325" y="465" width="1" height="27" fill="#c0c0c0"/>
<rect x="333" y="458" width="1" height="34" fill="#c0c0c0"/>
<rect x="341" y="455" width="1" height="37" fill="#c0c0c0"/>
<rect x="349" y="455" width="1" height="37" fill="#c0c0c0"/>
<rect x="357" y="453" width="1" height="39" fill="#c0c0c0"/>
<rect x="365" y="446" width="1" height="46" fill="#c0c0c0"/>
<rect x="373" y="441" width="1" height="51" fill="#c0c0c0"/>
<rect x="381" y="441" width="1" height="51" fill="#c0c0c0"/>
<rect x="389" y="442" width="1" height="50" fill="#c0c0c0"/>
<rect x="397" y="444" width="1" height="48" fill="#c0c0c0"/>
<rect x="405" y="452" width="1" height="40" fill="#c0c0c0"/>
<rect x="413" y="459" width="1" height="33" fill="#c0c0c0"/>
<rect x="421" y="469" width="1" height="23" fill="#c0c0c0"/>
<rect x="429" y="483" width="1" height="9" fill="#c0c0c0"/>
<rect x="437" y="491" width="1" height="3" fill="#c0c0c0"/>
<rect x="445" y="491" width="1" height="10" fill="#c0c0c0"/>
<rect x="453" y="491" width="1" height="13" fill="#c0c0c0"/>
<rect x="461" y="491" width="1" height="21" fill="#c0c0c0"/>
<rect x="469" y="491" width="1" height="25" fill="#c0c0c0"/>
<rect x="477" y="491" width="1" height="25" fill="#c0c0c0"/>
<rect x="485" y="491" width="1" height="25" fill="#c0c0c0"/>
<rect x="493" y="491" width="1" height="21" fill="#c0c0c0"/>
<rect x="501" y="491" width="1" height="18" fill="#c0c0c0"/>
<rect x="509" y="491" width="1" height="18" fill="#c0c0c0"/>
<rect x="517" y="491" width="1" height="13" fill="#c0c0c0"/>
<rect x="525" y="491" width="1" height="9" fill="#c0c0c0"/>
<rect x="533" y="491" width="1" height="7" fill="#c0c0c0"/>
<rect x="541" y="491" width="1" height="10" fill="#c0c0c0"/>
<rect x="549" y="491" width="1" height="11" fill="#c0c0c0"/>
<rect x="557" y="491" width="1" height="11" fill="#c0c0c0"/>
<rect x="565" y="491" width="1" height="10" fill="#c0c0c0"/>
<rect x="573" y="491" width="1" height="4" fill="#c0c0c0"/>
<rect x="581" y="491" width="1" height="1" fill="#c0c0c0"/>
<rect x="589" y="483" width="1" height="9" fill="#c0c0c0"/>
<rect x="597" y="479" width="1" height="13" fill="#c0c0c0"/>
<rect x="605" y="479" width="1" height="13" fill="#c0c0c0"/>
<rect x="613" y="482" width="1" height="10" fill="#c0c0c0"/>
<rect x="621" y="482" width="1" height="10" fill="#c0c0c0"/>
<rect x="629" y="479" width="1" height="13" fill="#c0c0c0"/>
<rect x="637" y="479" width="1" height="13" fill="#c0c0c0"/>
<rect x="645" y="480" width="1" height="12" fill="#c0c0c0"/>
<rect x="653" y="479" width="1" height="13" fill="#c0c0c0"/>
<rect x="661" y="477" width="1" height="15" fill="#c0c0c0"/>
<rect x="669" y="484" width="1" height="8" fill="#c0c0c0"/>
<rect x="677" y="489" width="1" height="3" fill="#c0c0c0"/>
<rect x="685" y="487" width="1" height="5" fill="#c0c0c0"/>
<rect x="693" y="487" width="1" height="5" fill="#c0c0c0"/>
<rect x="701" y="485" width="1" height="7" fill="#c0c0c0"/>
<rect x="709" y="485" width="1" height="7" fill="#c0c0c0"/>
<rect x="717" y="485" width="1" height="7" fill="#c0c0c0"/>
<rect x="725" y="484" width="1" height="8" fill="#c0c0c0"/>
<rect x="733" y="477" width="1" height="15" fill="#c0c0c0"/>
<rect x="741" y="474" width="1" height="18" fill="#c0c0c0"/>
<rect x="749" y="472" width="1" height="20" fill="#c0c0c0"/>
<rect x="757" y="469" width="1" height="23" fill="#c0c0c0"/>
<rect x="765" y="467" width="1" height="25" fill="#c0c0c0"/>
<rect x="773" y="468" width="1" height="24" fill="#c0c0c0"/>
<rect x="781" y="475" width="1" height="17" fill="#c0c0c0"/>
<rect x="789" y="481" width="1" height="11" fill="#c0c0c0"/>
<rect x="797" y="487" width="1" height="5" fill="#c0c0c0"/>
<rect x="813" y="491" width="1" height="3" fill="#c0c0c0"/>
<rect x="821" y="491" width="1" height="3" fill="#c0c0c0"/>
<rect x="829" y="491" width="1" height="4" fill="#c0c0c0"/>
<rect x="837" y="491" width="1" height="5" fill="#c0c0c0"/>
<rect x="845" y="491" width="1" height="10" fill="#c0c0c0"/>
<rect x="853" y="491" width="1" height="15" fill="#c0c0c0"/>
<rect x="861" y="491" width="1" height="20" fill="#c0c0c0"/>
<rect x="869" y="491" width="1" height="24" fill="#c0c0c0"/>
<rect x="877" y="491" width="1" height="23" fill="#c0c0c0"/>
<rect x="885" y="491" width="1" height="22" fill="#c0c0c0"/>
<rect x="893" y="491" width="1" height="19" fill="#c0c0c0"/>
<rect x="901" y="491" width="1" height="18" fill="#c0c0c0"/>
<rect x="909" y="491" width="1" height="19" fill="#c0c0c0"/>
<rect x="917" y="491" width="1" height="20" fill="#c0c0c0"/>
<rect x="925" y="491" width="1" height="21" fill="#c0c0c0"/>
<rect x="933" y="491" width="1" height="21" fill="#c0c0c0"/>
<rect x="941" y="491" width="1" height="27" fill="#c0c0c0"/>
<rect x="949" y="491" width="1" height="29" fill="#c0c0c0"/>
</g>
<path d="M5 520h2v1h-2zM7 519h1v1h-1zM11 516h1v1h-1zM12 515h1v1h-1zM13 514h2v1h-2zM15 513h1v1h-1zM19 510h1v1h-1zM20 509h1v1h-1zM21 508h2v1h-2zM23 507h1v1h-1zM27 505h1v1h-1zM28 504h2v1h-2zM30 503h2v1h-2zM35 501h1v1h-1zM36 500h2v1h-2zM38 499h2v1h-2zM43 497h1v1h-1zM44 496h2v1h-2zM46 495h2v1h-2zM51 493h2v1h-2zM53 492h3v1h-3zM59 490h3v1h-3zM62 489h2v1h-2zM67 488h5v1h-5zM75 488h5v1h-5zM83 489h1v1h-1zM84 490h4v1h-4zM91 491h1v1h-1zM92 492h3v1h-3zM95 493h1v1h-1zM99 494h2v1h-2zM101 495h2v1h-2zM103 496h1v1h-1zM107 497h2v1h-2zM109 498h2v1h-2zM111 499h1v1h-1zM115 501h2v1h-2zM117 502h2v1h-2zM119 503h1v1h-1zM123 506h1v1h-1zM124 507h1v1h-1zM125 508h2v1h-2zM127 509h1v1h-1zM131 512h1v1h-1zM132 513h1v1h-1zM133 514h2v1h-2zM135 515h1v1h-1zM139 518h1v1h-1zM140 519h1v1h-1zM141 520h2v1h-2zM143 521h1v1h-1zM147 524h1v1h-1zM148 525h1v1h-1zM149 526h2v1h-2zM151 527h1v1h-1zM155 529h1v1h-1zM156 530h2v1h-2zM158 531h2v1h-2zM163 533h2v1h-2zM165 534h3v1h-3zM171 535h1v1h-1zM172 536h4v1h-4zM179 537h5v1h-5zM187 537h5v1h-5zM195 536h5v1h-5zM203 535h1v1h-1zM204 534h3v1h-3zM207 533h1v1h-1zM211 532h2v1h-2zM213 531h3v1h-3zM219 530h1v1h-1zM220 529h4v1h-4zM227 528h5v1h-5zM235 528h5v1h-5zM243 528h5v1h-5zM251 527h5v1h-5zM259 526h4v1h-4zM263 525h1v1h-1zM267 524h1v1h-1zM268 523h2v1h-2zM270 522h2v1h-2zM275 521h3v1h-3zM278 520h2v1h-2zM283 518h3v1h-3zM286 517h2v1h-2zM291 515h1v1h-1zM292 514h2v1h-2zM294 513h2v1h-2zM299 511h1v1h-1zM300 510h2v1h-2zM302 509h1v1h-1zM303 508h1v1h-1zM307 505h2v1h-2zM309 504h1v1h-1zM310 503h1v1h-1zM311 502h1v1h-1zM315 500h1v1h-1zM316 499h1v1h-1zM317 498h2v1h-2zM319 497h1v1h-1zM323 494h1v1h-1zM324 493h1v1h-1zM325 492h2v1h-2zM327 491h1v1h-1zM331 488h1v1h-1zM332 487h1v1h-1zM333 486h2v1h-2zM335 485h1v1h-1zM339 482h1v1h-1zM340 481h1v1h-1zM341 480h2v1h-2zM343 479h1v1h-1zM347 476h2v1h-2zM349 475h1v1h-1zM350 474h2v1h-2zM355 471h1v1h-1zM356 470h2v1h-2zM358 469h1v1h-1zM359 468h1v1h-1zM363 466h1v1h-1zM364 465h1v1h-1zM365 464h2v1h-2zM367 463h1v1h-1zM371 460h2v1h-2zM373 459h1v1h-1zM374 458h2v1h-2zM379 455h2v1h-2zM381 454h2v1h-2zM383 453h1v1h-1zM387 451h2v1h-2zM389 450h2v1h-2zM391 449h1v1h-1zM395 448h2v1h-2zM397 447h3v1h-3zM403 446h5v1h-5zM411 447h5v1h-5zM419 448h3v1h-3zM422 449h2v1h-2zM427 451h2v1h-2zM429 452h2v1h-2zM431 453h1v1h-1zM435 455h1v1h-1zM436 456h1v1h-1zM437 457h2v1h-2zM439 458h1v1h-1zM443 462h1v1h-1zM444 463h1v1h-1zM445 464h1v1h-1zM446 465h1v1h-1zM447 466h1v1h-1zM451 469h1v1h-1zM452 470h1v1h-1zM453 471h1v1h-1zM454 472h1v1h-1zM455 473h1v1h-1zM459 477h1v1h-1zM460 478h1v1h-1zM461 479h1v1h-1zM462 480h1v1h-1zM463 481h1v1h-1zM467 484h1v1h-1zM468 485h1v1h-1zM469 486h1v1h-1zM470 487h1v1h-1zM471 488h1v1h-1zM475 491h1v1h-1zM476 492h1v1h-1zM477 493h1v1h-1zM478 494h1v1h-1zM479 495h1v1h-1zM483 499h1v1h-1zM484 500h1v1h-1zM485 501h2v1h-2zM487 502h1v1h-1zM491 504h1v1h-1zM492 505h2v1h-2zM494 506h2v1h-2zM499 508h2v1h-2zM501 509h3v1h-3zM507 510h1v1h-1zM508 511h4v1h-4zM515 511h5v1h-5zM523 511h5v1h-5zM531 510h1v1h-1zM532 509h4v1h-4zM539 508h1v1h-1zM540 507h4v1h-4zM547 506h5v1h-5zM555 505h3v1h-3zM558 504h2v1h-2zM563 504h3v1h-3zM566 503h2v1h-2zM571 502h1v1h-1zM572 501h4v1h-4zM579 500h1v1h-1zM580 499h4v1h-4zM587 498h3v1h-3zM590 497h2v1h-2zM595 495h3v1h-3zM598 494h2v1h-2zM603 493h1v1h-1zM604 492h4v1h-4zM611 491h3v1h-3zM614 490h2v1h-2zM619 488h2v1h-2zM621 487h3v1h-3zM627 486h1v1h-1zM628 485h4v1h-4zM635 483h3v1h-3zM638 482h2v1h-2zM643 481h1v1h-1zM644 480h4v1h-4zM651 479h5v1h-5zM659 478h5v1h-5zM667 479h5v1h-5zM675 480h5v1h-5zM683 481h5v1h-5zM691 481h5v1h-5zM699 482h5v1h-5zM707 483h5v1h-5zM715 483h5v1h-5zM723 484h5v1h-5zM731 484h5v1h-5zM739 483h5v1h-5zM747 482h1v1h-1zM748 481h4v1h-4zM755 480h1v1h-1zM756 479h3v1h-3zM759 478h1v1h-1zM763 477h2v1h-2zM765 476h3v1h-3zM771 475h5v1h-5zM779 474h1v1h-1zM780 473h4v1h-4zM787 473h5v1h-5zM795 473h5v1h-5zM803 474h3v1h-3zM806 475h2v1h-2zM811 476h2v1h-2zM813 477h3v1h-3zM819 479h2v1h-2zM821 480h2v1h-2zM823 481h1v1h-1zM827 482h2v1h-2zM829 483h3v1h-3zM835 485h3v1h-3zM838 486h2v1h-2zM843 488h2v1h-2zM845 489h2v1h-2zM847 490h1v1h-1zM851 492h2v1h-2zM853 493h2v1h-2zM855 494h1v1h-1zM859 496h2v1h-2zM861 497h2v1h-2zM863 498h1v1h-1zM867 499h2v1h-2zM869 500h2v1h-2zM871 501h1v1h-1zM875 502h2v1h-2zM877 503h3v1h-3zM883 504h1v1h-1zM884 505h4v1h-4zM891 506h1v1h-1zM892 507h4v1h-4zM899 508h1v1h-1zM900 509h4v1h-4zM907 510h5v1h-5zM915 511h5v1h-5zM923 512h5v1h-5zM931 512h5v1h-5zM939 513h5v1h-5zM947 513h3v1h-3z" fill="#FF0000" shape-rendering="crispEdges"/>
<g shape-rendering="crispEdges">
<line x1="6" y1="589.5" x2="1210" y2="589.5" stroke="#c0c0c0" stroke-width="1" stroke-dasharray="3 3"/>
<line x1="6" y1="630.5" x2="1210" y2="630.5" stroke="#c0c0c0" stroke-width="1" stroke-dasharray="3 3"/>
</g>
<path d="M5 599h2v1h-2zM7 600h3v1h-3zM10 601h3v1h-3zM13 602h2v1h-2zM15 603h3v1h-3zM18 604h3v1h-3zM21 605h2v1h-2zM23 606h3v1h-3zM26 607h3v1h-3zM29 608h10v1h-10zM39 609h2v1h-2zM41 610h2v1h-2zM43 611h2v1h-2zM45 612h3v1h-3zM48 611h4v1h-4zM52 610h19v1h-19zM71 611h2v1h-2zM73 612h2v1h-2zM75 613h2v1h-2zM77 614h1v1h-1zM78 615h1v1h-1zM79 616h1v1h-1zM80 617h1v1h-1zM81 618h1v2h-1zM82 620h1v1h-1zM83 621h1v1h-1zM84 622h1v1h-1zM85 623h1v1h-1zM86 624h1v1h-1zM87 623h1v1h-1zM88 622h1v1h-1zM89 621h1v1h-1zM90 620h1v1h-1zM91 619h1v1h-1zM92 618h1v1h-1zM93 617h5v1h-5zM98 616h5v1h-5zM103 617h1v1h-1zM104 618h1v1h-1zM105 619h2v1h-2zM107 620h1v1h-1zM108 621h1v1h-1zM109 622h5v1h-5zM114 623h4v1h-4zM118 624h1v1h-1zM119 625h1v1h-1zM120 626h1v1h-1zM121 627h1v1h-1zM122 628h1v1h-1zM123 629h1v1h-1zM124 630h1v1h-1zM125 631h1v1h-1zM126 632h1v1h-1zM127 631h3v1h-3zM130 630h3v1h-3zM133 629h1v1h-1zM134 628h1v1h-1zM135 627h1v1h-1zM136 626h1v1h-1zM137 625h1v1h-1zM138 624h1v1h-1zM139 623h1v1h-1zM140 622h1v1h-1zM141 621h1v1h-1zM142 620h4v1h-4zM146 619h5v1h-5zM151 618h1v1h-1zM152 617h1v1h-1zM153 616h1v1h-1zM154 615h1v1h-1zM155 614h1v1h-1zM156 613h1v1h-1zM157 612h4v1h-4zM161 611h10v1h-10zM171 612h6v1h-6zM177 611h6v1h-6zM183 612h1v1h-1zM184 613h1v1h-1zM185 614h1v1h-1zM186 615h1v1h-1zM187 616h1v1h-1zM188 617h1v1h-1zM189 618h4v1h-4zM193 619h6v1h-6zM199 618h2v1h-2zM201 617h1v1h-1zM202 616h2v1h-2zM204 615h1v1h-1zM205 614h3v1h-3zM208 615h4v1h-4zM212 616h6v1h-6zM218 617h8v1h-8zM226 618h5v1h-5zM231 619h1v1h-1zM232 620h1v1h-1zM233 621h1v1h-1zM234 622h1v1h-1zM235 623h1v1h-1zM236 624h1v1h-1zM237 625h1v1h-1zM238 624h1v1h-1zM239 623h1v1h-1zM240 621h1v2h-1zM241 620h1v1h-1zM242 619h1v1h-1zM243 617h1v2h-1zM244 616h1v1h-1zM245 615h1v1h-1zM246 613h1v2h-1zM247 612h1v1h-1zM248 611h1v1h-1zM249 609h1v2h-1zM250 608h1v1h-1zM251 607h1v1h-1zM252 605h1v2h-1zM253 604h4v1h-4zM257 605h3v1h-3zM260 606h4v1h-4zM264 607h3v1h-3zM267 608h8v1h-8zM275 607h13v1h-13zM288 608h4v1h-4zM292 609h2v1h-2zM294 608h1v1h-1zM295 607h1v1h-1zM296 606h1v1h-1zM297 604h1v2h-1zM298 603h1v1h-1zM299 602h1v1h-1zM300 601h1v1h-1zM301 600h1v1h-1zM302 599h2v1h-2zM304 600h4v1h-4zM308 601h6v1h-6zM314 600h5v1h-5zM319 599h1v1h-1zM320 598h1v1h-1zM321 597h2v1h-2zM323 596h1v1h-1zM324 595h1v1h-1zM325 594h3v1h-3zM328 595h4v1h-4zM332 596h4v1h-4zM336 597h4v1h-4zM340 598h3v1h-3zM343 599h2v1h-2zM345 600h2v1h-2zM347 601h2v1h-2zM349 602h2v1h-2zM351 601h3v1h-3zM354 600h3v1h-3zM357 599h2v1h-2zM359 598h1v1h-1zM360 597h1v1h-1zM361 596h2v1h-2zM363 595h1v1h-1zM364 594h1v1h-1zM365 593h5v1h-5zM370 594h5v1h-5zM375 595h1v1h-1zM376 596h2v1h-2zM378 597h2v1h-2zM380 598h1v1h-1zM381 599h11v1h-11zM392 600h4v1h-4zM396 601h2v1h-2zM398 602h1v1h-1zM399 603h1v1h-1zM400 604h1v1h-1zM401 605h1v1h-1zM402 606h1v1h-1zM403 607h1v1h-1zM404 608h1v1h-1zM405 609h1v1h-1zM406 610h5v1h-5zM411 611h4v1h-4zM415 612h1v1h-1zM416 613h2v1h-2zM418 614h2v1h-2zM420 615h1v1h-1zM421 616h2v1h-2zM423 617h1v1h-1zM424 618h1v1h-1zM425 619h2v1h-2zM427 620h1v1h-1zM428 621h1v1h-1zM429 622h5v1h-5zM434 623h5v1h-5zM439 622h2v1h-2zM441 621h3v1h-3zM444 620h2v1h-2zM446 619h2v1h-2zM448 618h3v1h-3zM451 617h2v1h-2zM453 616h2v1h-2zM455 617h1v1h-1zM456 618h1v1h-1zM457 619h2v1h-2zM459 620h1v1h-1zM460 621h1v1h-1zM461 622h2v1h-2zM463 621h2v1h-2zM465 620h2v1h-2zM467 619h2v1h-2zM469 618h2v1h-2zM471 617h2v1h-2zM473 616h2v1h-2zM475 615h2v1h-2zM477 614h10v1h-10zM487 613h2v1h-2zM489 612h2v1h-2zM491 611h2v1h-2zM493 610h3v1h-3zM496 611h4v1h-4zM500 612h11v1h-11zM511 611h1v1h-1zM512 610h2v1h-2zM514 609h2v1h-2zM516 608h1v1h-1zM517 607h3v1h-3zM520 606h4v1h-4zM524 605h3v1h-3zM527 606h2v1h-2zM529 607h3v1h-3zM532 608h2v1h-2zM534 609h1v1h-1zM535 610h1v1h-1zM536 611h1v1h-1zM537 612h1v1h-1zM538 613h1v1h-1zM539 614h1v1h-1zM540 615h1v1h-1zM541 616h2v1h-2zM543 615h2v1h-2zM545 614h2v1h-2zM547 613h2v1h-2zM549 612h17v1h-17zM566 611h1v1h-1zM567 610h1v1h-1zM568 609h1v1h-1zM569 608h1v1h-1zM570 607h1v1h-1zM571 606h1v1h-1zM572 605h1v1h-1zM573 604h1v1h-1zM574 603h1v1h-1zM575 602h3v1h-3zM578 601h3v1h-3zM581 600h3v1h-3zM584 599h4v1h-4zM588 598h3v1h-3zM591 599h2v1h-2zM593 600h2v1h-2zM595 601h2v1h-2zM597 602h2v1h-2zM599 603h2v1h-2zM601 604h2v1h-2zM603 605h2v1h-2zM605 606h2v1h-2zM607 607h1v1h-1zM608 608h2v1h-2zM610 609h2v1h-2zM612 610h1v1h-1zM613 611h2v1h-2zM615 610h1v1h-1zM616 609h2v1h-2zM618 608h2v1h-2zM620 607h1v1h-1zM621 606h2v1h-2zM623 605h2v1h-2zM625 604h2v1h-2zM627 603h2v1h-2zM629 602h2v1h-2zM631 603h2v1h-2zM633 604h1v1h-1zM634 605h2v1h-2zM636 606h2v1h-2zM638 607h5v1h-5zM643 608h4v1h-4zM647 607h1v1h-1zM648 606h2v1h-2zM650 605h2v1h-2zM652 604h1v1h-1zM653 603h5v1h-5zM658 604h4v1h-4zM662 605h1v1h-1zM663 606h1v2h-1zM664 608h1v1h-1zM665 609h1v2h-1zM666 611h1v1h-1zM667 612h1v2h-1zM668 614h1v1h-1zM669 615h1v1h-1zM670 616h2v1h-2zM672 615h4v1h-4zM676 614h3v1h-3zM679 613h1v1h-1zM680 612h1v1h-1zM681 611h1v1h-1zM682 610h1v1h-1zM683 609h1v1h-1zM684 608h1v1h-1zM685 607h1v1h-1zM686 606h2v1h-2zM688 607h4v1h-4zM692 608h4v1h-4zM696 607h4v1h-4zM700 606h3v1h-3zM703 607h3v1h-3zM706 608h3v1h-3zM709 609h2v1h-2zM711 608h3v1h-3zM714 607h3v1h-3zM717 606h5v1h-5zM722 605h5v1h-5zM727 604h1v1h-1zM728 603h1v1h-1zM729 602h1v1h-1zM730 601h1v1h-1zM731 600h1v1h-1zM732 599h1v1h-1zM733 598h2v1h-2zM735 599h2v1h-2zM737 600h2v1h-2zM739 601h2v1h-2zM741 602h11v1h-11zM752 601h4v1h-4zM756 600h6v1h-6zM762 599h5v1h-5zM767 600h2v1h-2zM769 601h2v1h-2zM771 602h2v1h-2zM773 603h1v1h-1zM774 604h1v1h-1zM775 605h1v1h-1zM776 606h1v2h-1zM777 608h1v1h-1zM778 609h1v2h-1zM779 611h1v1h-1zM780 612h1v1h-1zM781 613h1v1h-1zM782 614h2v1h-2zM784 615h4v1h-4zM788 616h14v1h-14zM802 617h5v1h-5zM807 616h3v1h-3zM810 615h3v1h-3zM813 614h2v1h-2zM815 613h2v1h-2zM817 612h2v1h-2zM819 611h2v1h-2zM821 610h3v1h-3zM824 611h4v1h-4zM828 612h4v1h-4zM832 613h4v1h-4zM836 614h3v1h-3zM839 615h1v1h-1zM840 616h2v1h-2zM842 617h2v1h-2zM844 618h1v1h-1zM845 619h2v1h-2zM847 620h3v1h-3zM850 621h3v1h-3zM853 622h3v1h-3zM856 623h4v1h-4zM860 624h6v1h-6zM866 625h4v1h-4zM870 624h1v1h-1zM871 623h1v1h-1zM872 622h1v1h-1zM873 620h1v2h-1zM874 619h1v1h-1zM875 618h1v1h-1zM876 617h1v1h-1zM877 616h1v1h-1zM878 615h4v1h-4zM882 614h5v1h-5zM887 613h2v1h-2zM889 612h2v1h-2zM891 611h2v1h-2zM893 610h2v1h-2zM895 611h1v1h-1zM896 612h1v1h-1zM897 613h2v1h-2zM899 614h1v1h-1zM900 615h1v1h-1zM901 616h12v1h-12zM913 617h5v1h-5zM918 618h5v1h-5zM923 619h5v1h-5zM928 618h4v1h-4zM932 617h2v1h-2zM934 618h1v1h-1zM935 619h1v1h-1zM936 620h1v2h-1zM937 622h1v1h-1zM938 623h1v2h-1zM939 625h1v1h-1zM940 626h1v1h-1zM941 627h2v1h-2zM943 626h1v1h-1zM944 625h1v1h-1zM945 624h1v1h-1zM946 623h1v1h-1zM947 622h1v1h-1zM948 621h1v1h-1zM949 620h1v1h-1z" fill="#0080FF" shape-rendering="crispEdges"/>
<g shape-rendering="crispEdges" fill="#000">
<rect x="4" y="3" width="1207" height="1"/>
<rect x="4" y="431" width="1207" height="1"/>
<rect x="4" y="3" width="1" height="429"/>
<rect x="1210" y="3" width="1" height="429"/>
<rect x="4" y="433" width="1207" height="1"/>
<rect x="4" y="554" width="1207" height="1"/>
<rect x="4" y="433" width="1" height="122"/>
<rect x="1210" y="433" width="1" height="122"/>
<rect x="4" y="556" width="1207" height="1"/>
<rect x="4" y="662" width="1207" height="1"/>
<rect x="4" y="556" width="1" height="107"/>
<rect x="1210" y="556" width="1" height="107"/>
<rect x="4" y="79" width="1206" height="2" fill="#FF1E00"/>
<rect x="4" y="238" width="1206" height="2" fill="#00C800"/>
<rect x="4" y="366" width="1206" height="2" fill="#4254E6"/>
<rect x="1211" y="32" width="2" height="1"/>
<rect x="1211" y="65" width="2" height="1"/>
<rect x="1211" y="98" width="2" height="1"/>
<rect x="1211" y="131" width="2" height="1"/>
<rect x="1211" y="164" width="2" height="1"/>
<rect x="1211" y="197" width="2" height="1"/>
<rect x="1211" y="230" width="2" height="1"/>
<rect x="1211" y="263" width="2" height="1"/>
<rect x="1211" y="296" width="2" height="1"/>
<rect x="1211" y="329" width="2" height="1"/>
<rect x="1211" y="362" width="2" height="1"/>
<rect x="1211" y="395" width="2" height="1"/>
<rect x="1211" y="428" width="2" height="1"/>
<rect x="1211" y="435" width="1" height="1"/>
<rect x="1211" y="491" width="1" height="1"/>
<rect x="1211" y="553" width="1" height="1"/>
<rect x="1211" y="558" width="1" height="1"/>
<rect x="1211" y="661" width="1" height="1"/>
<rect x="5" y="663" width="1" height="3"/>
<rect x="69" y="663" width="1" height="3"/>
<rect x="133" y="663" width="1" height="3"/>
<rect x="197" y="663" width="1" height="3"/>
<rect x="261" y="663" width="1" height="3"/>
<rect x="325" y="663" width="1" height="3"/>
<rect x="389" y="663" width="1" height="3"/>
<rect x="453" y="663" width="1" height="3"/>
<rect x="517" y="663" width="1" height="3"/>
<rect x="581" y="663" width="1" height="3"/>
<rect x="645" y="663" width="1" height="3"/>
<rect x="709" y="663" width="1" height="3"/>
<rect x="773" y="663" width="1" height="3"/>
<rect x="837" y="663" width="1" height="3"/>
<rect x="901" y="663" width="1" height="3"/>
</g>
<path d="M8 10h7v1h-7zM9 11h5v1h-5zM10 12h3v1h-3zM11 13h1v1h-1z" fill="#000" shape-rendering="crispEdges"/>
<g shape-rendering="crispEdges">
<rect x="1213" y="74" width="34" height="11" fill="#FF1E00"/>
<rect x="1213" y="233" width="34" height="11" fill="#00C800"/>
<rect x="1213" y="361" width="34" height="11" fill="#4254E6"/>
<rect x="1213" y="276" width="34" height="11" fill="#000"/>
</g>
<g font-family="Liberation Sans, sans-serif" font-size="9" fill="#000" stroke="none"><text x="9" y="446" textLength="124" lengthAdjust="spacingAndGlyphs" xml:space="preserve">MACD(12,26,9) -23.21 -17.83</text><text x="9" y="569" textLength="68" lengthAdjust="spacingAndGlyphs" xml:space="preserve">RSI(14) 41.1776</text><text x="1216" y="36" textLength="28" lengthAdjust="spacingAndGlyphs" xml:space="preserve">5045.0</text><text x="1216" y="69" textLength="28" lengthAdjust="spacingAndGlyphs" xml:space="preserve">5014.0</text><text x="1216" y="102" textLength="28" lengthAdjust="spacingAndGlyphs" xml:space="preserve">4983.0</text><text x="1216" y="135" textLength="28" lengthAdjust="spacingAndGlyphs" xml:space="preserve">4951.5</text><text x="1216" y="168" textLength="28" lengthAdjust="spacingAndGlyphs" xml:space="preserve">4920.5</text><text x="1216" y="201" textLength="28" lengthAdjust="spacingAndGlyphs" xml:space="preserve">4889.5</text><text x="1216" y="234" textLength="28" lengthAdjust="spacingAndGlyphs" xml:space="preserve">4858.5</text><text x="1216" y="267" textLength="28" lengthAdjust="spacingAndGlyphs" xml:space="preserve">4827.5</text><text x="1216" y="300" textLength="28" lengthAdjust="spacingAndGlyphs" xml:space="preserve">4796.5</text><text x="1216" y="333" textLength="28" lengthAdjust="spacingAndGlyphs" xml:space="preserve">4765.5</text><text x="1216" y="366" textLength="28" lengthAdjust="spacingAndGlyphs" xml:space="preserve">4734.5</text><text x="1216" y="399" textLength="28" lengthAdjust="spacingAndGlyphs" xml:space="preserve">4703.0</text><text x="1216" y="432" textLength="28" lengthAdjust="spacingAndGlyphs" xml:space="preserve">4672.0</text><text x="1216" y="83" fill="#fff" textLength="28" lengthAdjust="spacingAndGlyphs" xml:space="preserve">5000.0</text><text x="1216" y="242" fill="#fff" textLength="28" lengthAdjust="spacingAndGlyphs" xml:space="preserve">4850.0</text><text x="1216" y="370" fill="#fff" textLength="28" lengthAdjust="spacingAndGlyphs" xml:space="preserve">4730.0</text><text x="1216" y="285" fill="#fff" textLength="28" lengthAdjust="spacingAndGlyphs" xml:space="preserve">4810.5</text><text x="1214" y="444" textLength="23" lengthAdjust="spacingAndGlyphs" xml:space="preserve">46.28</text><text x="1214" y="495" textLength="18" lengthAdjust="spacingAndGlyphs" xml:space="preserve">0.00</text><text x="1214" y="551" textLength="26" lengthAdjust="spacingAndGlyphs" xml:space="preserve">-50.42</text><text x="1214" y="567" textLength="15" lengthAdjust="spacingAndGlyphs" xml:space="preserve">100</text><text x="1213" y="593" textLength="10" lengthAdjust="spacingAndGlyphs" xml:space="preserve">70</text><text x="1213" y="634" textLength="10" lengthAdjust="spacingAndGlyphs" xml:space="preserve">30</text><text x="1214" y="659" textLength="5" lengthAdjust="spacingAndGlyphs" xml:space="preserve">0</text><text x="4" y="675" textLength="53" lengthAdjust="spacingAndGlyphs" xml:space="preserve">10 Aug 2021</text><text x="68" y="675" textLength="56" lengthAdjust="spacingAndGlyphs" xml:space="preserve">16 Aug 05:00</text><text x="132" y="675" textLength="56" lengthAdjust="spacingAndGlyphs" xml:space="preserve">20 Aug 05:00</text><text x="196" y="675" textLength="56" lengthAdjust="spacingAndGlyphs" xml:space="preserve">26 Aug 05:00</text><text x="260" y="675" textLength="50" lengthAdjust="spacingAndGlyphs" xml:space="preserve">1 Sep 05:00</text><text x="324" y="675" textLength="50" lengthAdjust="spacingAndGlyphs" xml:space="preserve">7 Sep 05:00</text><text x="388" y="675" textLength="55" lengthAdjust="spacingAndGlyphs" xml:space="preserve">13 Sep 05:00</text><text x="452" y="675" textLength="55" lengthAdjust="spacingAndGlyphs" xml:space="preserve">17 Sep 05:00</text><text x="516" y="675" textLength="55" lengthAdjust="spacingAndGlyphs" xml:space="preserve">27 Sep 05:00</text><text x="580" y="675" textLength="49" lengthAdjust="spacingAndGlyphs" xml:space="preserve">8 Oct 05:00</text><text x="644" y="675" textLength="54" lengthAdjust="spacingAndGlyphs" xml:space="preserve">14 Oct 05:00</text><text x="708" y="675" textLength="54" lengthAdjust="spacingAndGlyphs" xml:space="preserve">20 Oct 05:00</text><text x="772" y="675" textLength="54" lengthAdjust="spacingAndGlyphs" xml:space="preserve">26 Oct 05:00</text><text x="836" y="675" textLength="52" lengthAdjust="spacingAndGlyphs" xml:space="preserve">1 Nov 05:00</text><text x="900" y="675" textLength="52" lengthAdjust="spacingAndGlyphs" xml:space="preserve">5 Nov 05:00</text><text x="20" y="15" textLength="191" lengthAdjust="spacingAndGlyphs" xml:space="preserve">CHINA300-,H4  4771.5 4813.8 4764.3 4810.5</text><text x="565" y="340" font-size="38" fill="#FF0000" style="font-family:'Liberation Sans','Noto Sans CJK SC',sans-serif" textLength="287" lengthAdjust="spacingAndGlyphs">多空转折点4850</text></g>
</svg></body></html>
